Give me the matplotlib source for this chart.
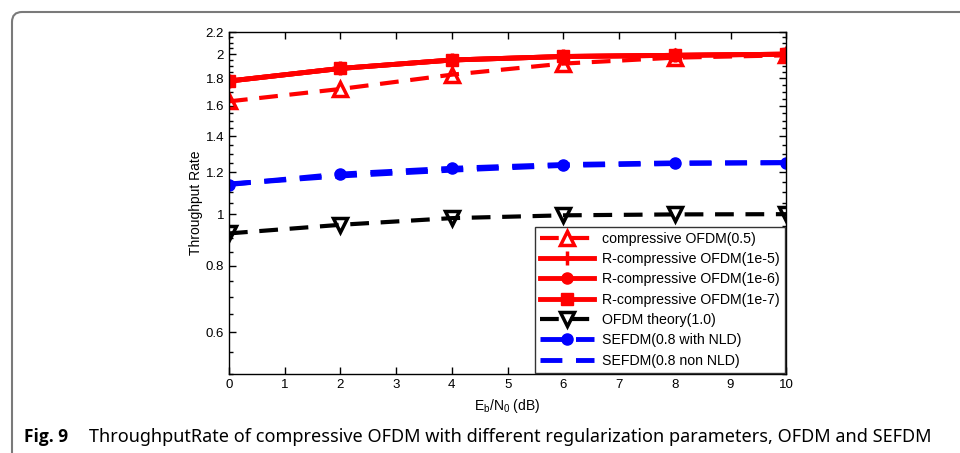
import matplotlib.pyplot as plt
from matplotlib.patches import FancyBboxPatch
from matplotlib.ticker import FixedLocator, MultipleLocator, NullFormatter

plt.rcParams['font.family'] = ['Liberation Sans', 'DejaVu Sans']

# data
ebn0 = [0, 2, 4, 6, 8, 10]
comp_05 = [1.63, 1.72, 1.83, 1.92, 1.97, 1.99]
r_comp_1e5 = [1.78, 1.88, 1.95, 1.98, 1.99, 2.0]
r_comp_1e6 = [1.78, 1.88, 1.95, 1.98, 1.99, 2.0]
r_comp_1e7 = [1.78, 1.88, 1.95, 1.98, 1.99, 2.0]
ofdm_theory = [0.92, 0.955, 0.983, 0.995, 0.999, 1.0]
sefdm_nld = [1.137, 1.19, 1.22, 1.24, 1.249, 1.25]
sefdm_non = [1.14, 1.18, 1.21, 1.235, 1.245, 1.25]

labels = ['compressive OFDM(0.5)', 'R-compressive OFDM(1e-5)', 'R-compressive OFDM(1e-6)',
          'R-compressive OFDM(1e-7)', 'OFDM theory(1.0)', 'SEFDM(0.8 with NLD)', 'SEFDM(0.8 non NLD)']

fig = plt.figure(figsize=(9.6, 4.53), dpi=100)
ax = fig.add_axes([0.2385, 0.174, 0.5805, 0.755])

dash = (4.5, 2.8)
ax.plot(ebn0, comp_05, color='red', lw=3, dashes=dash, marker='^', ms=10,
        mfc='none', mec='red', mew=2.5, label=labels[0])
ax.plot(ebn0, r_comp_1e5, color='red', lw=3.5, marker='+', ms=10, mew=2.5, label=labels[1])
ax.plot(ebn0, r_comp_1e6, color='red', lw=3.5, marker='o', ms=8, mfc='red', label=labels[2])
ax.plot(ebn0, r_comp_1e7, color='red', lw=3.5, marker='s', ms=9, mfc='red', label=labels[3])
ax.plot(ebn0, ofdm_theory, color='black', lw=3, dashes=dash, marker='v', ms=10,
        mfc='none', mec='black', mew=2.5, label=labels[4])
ax.plot(ebn0, sefdm_nld, color='blue', lw=3.5, dashes=dash, marker='o', ms=8,
        mfc='blue', label=labels[5])
ax.plot(ebn0, sefdm_non, color='blue', lw=3.5, dashes=dash, label=labels[6])

ax.set_yscale('log')
ax.set_xlim(0, 10)
ax.set_ylim(0.5, 2.2)
ax.xaxis.set_major_locator(MultipleLocator(1))
ax.yaxis.set_major_locator(FixedLocator([0.6, 0.8, 1.0, 1.2, 1.4, 1.6, 1.8, 2.0, 2.2]))
ax.yaxis.set_minor_locator(FixedLocator([0.5 + 0.05 * i for i in range(35)]))
ax.yaxis.set_minor_formatter(NullFormatter())
ax.set_yticklabels(['0.6', '0.8', '1', '1.2', '1.4', '1.6', '1.8', '2', '2.2'])
ax.tick_params(which='both', direction='in', top=True, right=True, labelsize=9.5, width=1)
ax.tick_params(which='major', length=5)
ax.tick_params(which='minor', length=3)
for s in ax.spines.values():
    s.set_linewidth(1)

ax.set_xlabel(r'E$_\mathregular{b}$/N$_\mathregular{0}$ (dB)', fontsize=10, labelpad=4)
ax.set_ylabel('Throughput Rate', fontsize=10, labelpad=2)

leg = ax.legend(loc='lower right', fontsize=10.2, fancybox=False, framealpha=1,
                edgecolor='#333333', handlelength=3.8, borderpad=0.35, labelspacing=0.45,
                handletextpad=0.6, borderaxespad=0.1)
leg.get_frame().set_linewidth(1)

# page frame with rounded corner
frame = FancyBboxPatch((12, -50), 1000, 491, boxstyle='round,pad=0,rounding_size=10',
                       transform=None, fill=False, edgecolor='#7a7a7a', lw=1.5)
fig.patches.append(frame)

fig.text(24 / 960, 1 - 437 / 453, 'Fig. 9', fontsize=12.5, fontweight='bold',
         family=['Open Sans', 'DejaVu Sans'], va='center', ha='left')
fig.text(89 / 960, 1 - 437 / 453,
         'ThroughputRate of compressive OFDM with different regularization parameters, OFDM and SEFDM',
         fontsize=13, family=['Noto Sans', 'DejaVu Sans'], va='center', ha='left')

fig.savefig('out.png', dpi=100)
